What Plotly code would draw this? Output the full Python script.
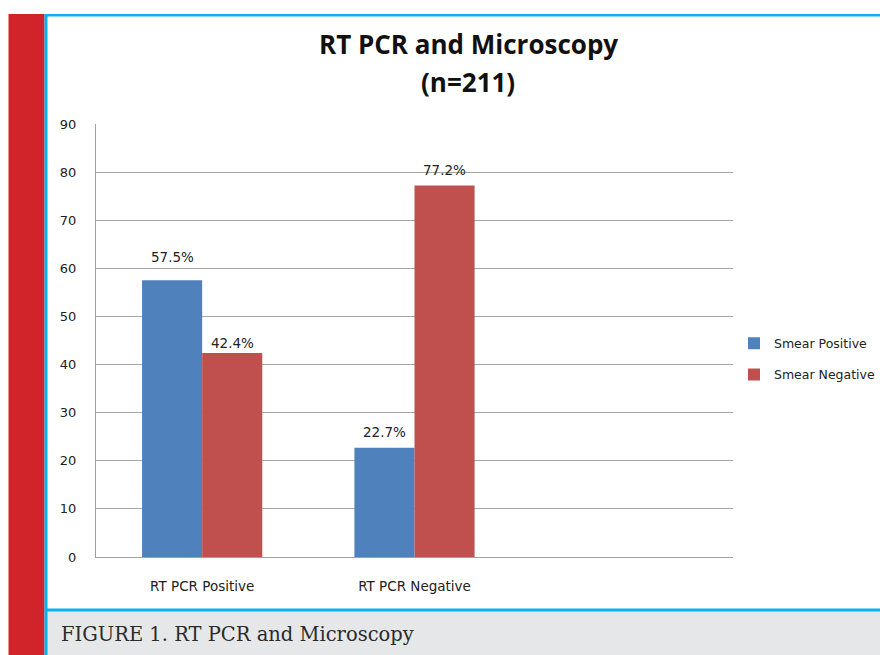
import plotly.graph_objects as go

categories = ["RT PCR Positive", "RT PCR Negative"]
smear_positive = [57.5, 22.7]
smear_negative = [42.4, 77.2]
series_names = ["Smear Positive", "Smear Negative"]
y_ticks = [0, 10, 20, 30, 40, 50, 60, 70, 80, 90]
label_shift = [[23, 16], [10, 16]]  # px above bar top, per series / category

W, H = 880, 655
L, R, T, B = 96, 733, 124, 557  # plot area in pixels

def px_x(p):
    return (p - L) / (R - L)

def px_y(p):
    return (B - p) / (B - T)

SMALL = "DejaVu Sans"
blue = "#4f81bd"
red = "#c0504d"
xs = list(range(len(categories)))

fig = go.Figure()
for i, (name, vals, col) in enumerate(zip(series_names, [smear_positive, smear_negative], [blue, red])):
    fig.add_trace(go.Bar(
        x=xs, y=vals, name=name, marker=dict(color=col, line=dict(width=0)),
        legendgroup=name, hoverinfo="y+name",
    ))

bargap = 1 - 120 / 212
bw = (1 - bargap) / 2
annotations = []
for i, vals in enumerate([smear_positive, smear_negative]):
    for j, v in enumerate(vals):
        annotations.append(dict(
            x=xs[j] + (i - 0.5) * bw, y=v, xref="x", yref="y",
            text=f"{v:.1f}%", showarrow=False, yanchor="middle",
            yshift=label_shift[i][j],
            font=dict(family=SMALL, size=13.5, color="#222"),
        ))

# title (two lines)
for txt, yy in [("RT PCR and Microscopy", 44), ("(n=211)", 82)]:
    annotations.append(dict(
        x=px_x(468), y=px_y(yy), xref="paper", yref="paper",
        text=f"<b>{txt}</b>", showarrow=False,
        font=dict(family="Open Sans", size=26, color="#111"),
        xanchor="center", yanchor="middle",
    ))
# caption
annotations.append(dict(
    x=px_x(59), y=px_y(634), xref="paper", yref="paper",
    text="FIGURE 1. RT PCR and Microscopy", showarrow=False,
    font=dict(family="DejaVu Serif", size=19.5, color="#2b2b2b"),
    xanchor="left", yanchor="middle",
))

shapes = [
    # caption gray band
    dict(type="rect", xref="paper", yref="paper", x0=px_x(47), x1=px_x(W + 5),
         y0=px_y(611), y1=px_y(H + 5), fillcolor="#e6e7e9", line=dict(width=0), layer="below"),
    # red side band
    dict(type="rect", xref="paper", yref="paper", x0=px_x(8.5), x1=px_x(44.5),
         y0=px_y(14), y1=px_y(H + 5), fillcolor="#d1232a", line=dict(width=0), layer="below"),
    # blue frame lines
    dict(type="rect", xref="paper", yref="paper", x0=px_x(44.5), x1=px_x(W + 5),
         y0=px_y(14), y1=px_y(16.5), fillcolor="#0db0ee", line=dict(width=0), layer="below"),
    dict(type="rect", xref="paper", yref="paper", x0=px_x(44.5), x1=px_x(47.5),
         y0=px_y(14), y1=px_y(H + 5), fillcolor="#0db0ee", line=dict(width=0), layer="below"),
    dict(type="rect", xref="paper", yref="paper", x0=px_x(44.5), x1=px_x(W + 5),
         y0=px_y(608.5), y1=px_y(611.5), fillcolor="#0db0ee", line=dict(width=0), layer="below"),
]

fig.update_layout(
    width=W, height=H,
    margin=dict(l=L, r=W - R, t=T, b=H - B, pad=0, autoexpand=False),
    paper_bgcolor="white", plot_bgcolor="white",
    barmode="group", bargap=bargap, bargroupgap=0,
    showlegend=True,
    legend=dict(x=px_x(734), y=px_y(359), xanchor="left", yanchor="middle",
                traceorder="grouped", tracegroupgap=12, itemwidth=30,
                font=dict(family=SMALL, size=12.5, color="#222"),
                bgcolor="rgba(0,0,0,0)"),
    annotations=annotations,
    shapes=shapes,
    xaxis=dict(range=[-0.5, 2.5], tickvals=xs, ticktext=categories,
               showgrid=False, zeroline=False, showline=True, linecolor="#a0a0a0",
               linewidth=1, ticks="", ticklabelstandoff=17,
               tickfont=dict(family=SMALL, size=13.5, color="#222"), fixedrange=True),
    yaxis=dict(range=[0, 90], tickvals=y_ticks, showgrid=True, gridcolor="#a6a6a6",
               gridwidth=1, zeroline=False, showline=True, linecolor="#a0a0a0",
               linewidth=1, ticks="", ticklabelstandoff=16,
               tickfont=dict(family=SMALL, size=13, color="#222"), fixedrange=True),
)

fig.write_html(
    "out.html",
    config={"displayModeBar": False},
    post_script="document.body.style.margin='0';document.body.style.overflow='hidden';",
)
